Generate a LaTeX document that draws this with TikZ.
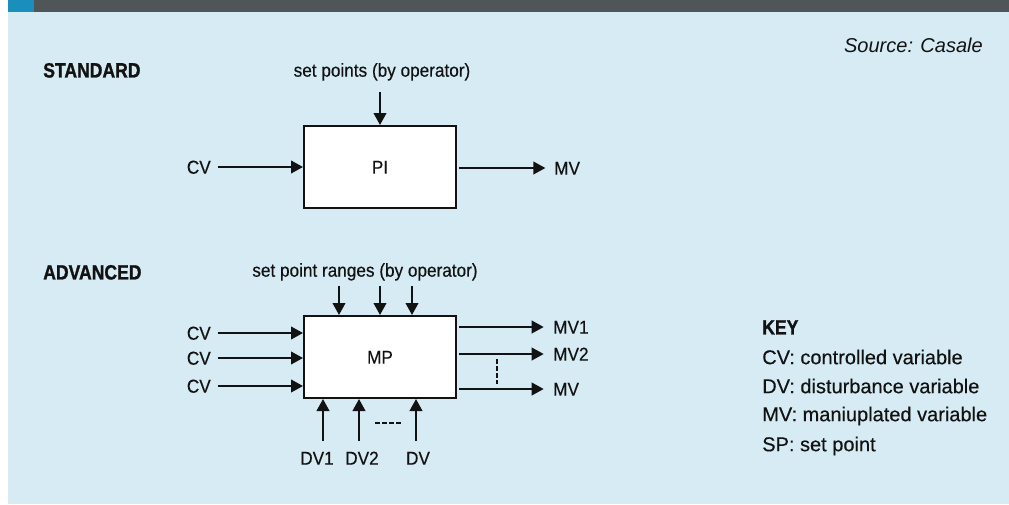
\documentclass[tikz,border=0pt]{standalone}
\usepackage{fontspec}
\setmainfont{Liberation Sans}
\newfontfamily\keyfont[FakeBold=0.3]{Liberation Sans}
\newfontfamily\diagfont[FakeStretch=0.92,FakeBold=0.35]{Liberation Sans}
\newfontfamily\headfont[FakeStretch=0.85,FakeBold=1.2]{Liberation Sans Bold}
\usetikzlibrary{arrows.meta}
\definecolor{bgblue}{RGB}{214,235,244}
\definecolor{bardark}{RGB}{80,85,87}
\definecolor{barblue}{RGB}{26,143,187}
\definecolor{ink}{RGB}{18,18,18}
\begin{document}
\begin{tikzpicture}[x=0.75pt,y=-0.75pt,
  lbl/.style={font=\diagfont\fontsize{14}{16}\selectfont, text=ink, text height=10pt, text depth=0pt},
  hdr/.style={font=\headfont\fontsize{15.5}{18}\selectfont, text=ink, text height=11.2pt, text depth=0pt, inner sep=0pt},
  keytxt/.style={font=\keyfont\fontsize{15}{18}\selectfont, text=ink, anchor=west, inner sep=0pt, text height=10.8pt, text depth=0pt},
  box/.style={draw=ink, fill=white, line width=1.5pt, minimum width=114pt, minimum height=61.5pt, inner sep=0pt},
  arr/.style={-{Triangle[length=9pt,width=9.5pt]}, line width=1.4pt, draw=ink},
  thindash/.style={draw=ink, line width=0.9pt, dash pattern=on 3.4pt off 1.9pt}
]
\useasboundingbox (0,0) rectangle (1009,504);
% background
\fill[white] (0,0) rectangle (1009,504);
\fill[bgblue] (8,12) rectangle (1009,504);
\fill[bardark] (8,0) rectangle (1009,12);
\fill[barblue] (8,0) rectangle (34,12);

% source
\node[font=\itshape\fontsize{15}{18}\selectfont, text=ink, anchor=east, inner sep=0pt, text height=10.8pt, text depth=0pt] (src) at (983,45) {Source: Casale};

% ---------- STANDARD ----------
\node[hdr, anchor=west] (std) at (43,70) {STANDARD};
\node[lbl] (sp1) at (382,70) {set points (by operator)};
\node[box, lbl] (pi) at (380,167) {PI};
\coordinate (sp1a) at (380,92);
\draw[arr] (sp1a) -- (sp1a |- pi.north);
\node[lbl, anchor=east, inner sep=0pt] (cv0) at (211,167) {CV};
\draw[arr] ([xshift=5pt]cv0.east) -- (cv0.east -| pi.west);
\node[lbl, anchor=west, inner sep=0pt] (mv0) at (554,168) {MV};
\draw[arr] ([xshift=1.5pt]mv0.west -| pi.east) -- ([xshift=-6.5pt]mv0.west);

% ---------- ADVANCED ----------
\node[hdr, anchor=west] (adv) at (43,272) {ADVANCED};
\node[lbl] (sp2) at (365,270) {set point ranges (by operator)};
\node[box, lbl] (mp) at (380,357) {MP};
\coordinate (sA) at (339,286);
\coordinate (sB) at (380,286);
\coordinate (sC) at (412,286);
\draw[arr] (sA) -- (sA |- mp.north);
\draw[arr] (sB) -- (sB |- mp.north);
\draw[arr] (sC) -- (sC |- mp.north);

\node[lbl, anchor=east, inner sep=0pt] (cv1) at (211,333) {CV};
\node[lbl, anchor=east, inner sep=0pt] (cv2) at (211,358) {CV};
\node[lbl, anchor=east, inner sep=0pt] (cv3) at (211,386) {CV};
\draw[arr] ([xshift=5pt]cv1.east) -- (cv1.east -| mp.west);
\draw[arr] ([xshift=5pt]cv2.east) -- (cv2.east -| mp.west);
\draw[arr] ([xshift=5pt]cv3.east) -- (cv3.east -| mp.west);

\node[lbl, anchor=west, inner sep=0pt] (mv1) at (553,327) {MV1};
\node[lbl, anchor=west, inner sep=0pt] (mv2) at (553,354) {MV2};
\node[lbl, anchor=west, inner sep=0pt] (mv3) at (553,389) {MV};
\draw[arr] ([xshift=1.5pt]mv1.west -| mp.east) -- ([xshift=-7pt]mv1.west);
\draw[arr] ([xshift=1.5pt]mv2.west -| mp.east) -- ([xshift=-7pt]mv2.west);
\draw[arr] ([xshift=1.5pt]mv3.west -| mp.east) -- ([xshift=-7pt]mv3.west);
\draw[thindash] (497,359) -- (497,384);

\node[lbl, inner sep=0pt] (dv1) at (317,458) {DV1};
\node[lbl, inner sep=0pt] (dv2) at (362,458) {DV2};
\node[lbl, inner sep=0pt] (dv3) at (418,458) {DV};
\coordinate (dA) at (323,441);
\coordinate (dB) at (359,441);
\coordinate (dC) at (416,441);
\draw[arr] (dA) -- (dA |- mp.south);
\draw[arr] (dB) -- (dB |- mp.south);
\draw[arr] (dC) -- (dC |- mp.south);
\draw[thindash] (375,423) -- (402,423);

% ---------- KEY ----------
\node[hdr, anchor=west] (key) at (762,327) {KEY};
\node[keytxt] (k1) at (762,357) {CV: controlled variable};
\node[keytxt] (k2) at (762,386) {DV: disturbance variable};
\node[keytxt] (k3) at (762,414) {MV: maniuplated variable};
\node[keytxt] (k4) at (762,444) {SP: set point};
\end{tikzpicture}
\end{document}
